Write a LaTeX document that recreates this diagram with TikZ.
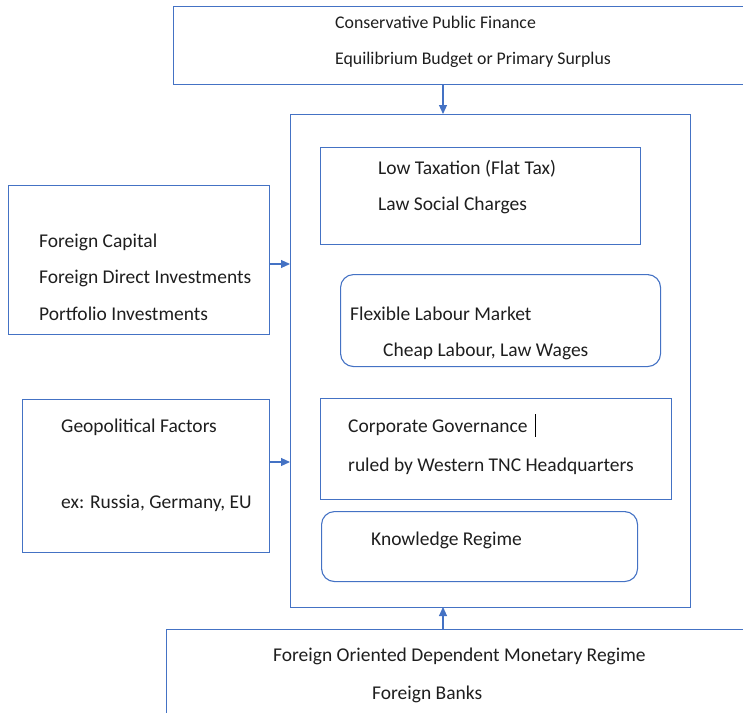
\documentclass[tikz,border=0pt]{standalone}
\usepackage{fontspec}
\setmainfont{Carlito}
\usetikzlibrary{arrows.meta}
\definecolor{boxline}{RGB}{68,114,196}
\definecolor{txt}{RGB}{30,30,30}
\tikzset{
  frame/.style={draw=boxline, line width=1.1pt, anchor=north west, inner sep=0pt},
  roundframe/.style={frame, rounded corners=13pt},
  lbl/.style={anchor=base west, inner sep=0pt, text=txt, font=\fontsize{19.5}{22}\selectfont},
  toplbl/.style={lbl, font=\fontsize{17.8}{20}\selectfont},
  conn/.style={draw=boxline, line width=1.1pt, -{Triangle[length=9pt,width=8pt]}}
}
\begin{document}
\begin{tikzpicture}[x=1pt,y=-1pt]
\useasboundingbox (0,0) rectangle (743,712);
% top box
\node[frame, minimum width=580pt, minimum height=78pt] (top) at (173,6) {};
\node[toplbl] (t1) at (335,28) {Conservative Public Finance};
\node[toplbl] (t2) at (335,64) {Equilibrium Budget or Primary Surplus};
% container
\node[frame, minimum width=400pt, minimum height=493pt] (main) at (290,114) {};
% inner boxes
\node[frame, minimum width=320pt, minimum height=97pt] (b1) at (320,147) {};
\node[lbl] (b1a) at (378,174) {Low Taxation (Flat Tax)};
\node[lbl] (b1b) at (378,210) {Law Social Charges};
\node[roundframe, minimum width=320pt, minimum height=92pt] (b2) at (340,274) {};
\node[lbl] (b2a) at (350,320) {Flexible Labour Market};
\node[lbl] (b2b) at (383,356) {Cheap Labour, Law Wages};
\node[frame, minimum width=351pt, minimum height=101pt] (b3) at (320,398) {};
\node[lbl] (b3a) at (348,432) {Corporate Governance};
\draw[black, line width=0.9pt] (535,414) -- (535,437);
\node[lbl] (b3b) at (348,471) {ruled by Western TNC Headquarters};
\node[roundframe, minimum width=316pt, minimum height=70pt] (b4) at (321,511) {};
\node[lbl] (b4a) at (371,545) {Knowledge Regime};
% left boxes
\node[frame, minimum width=261pt, minimum height=149pt] (l1) at (8,185) {};
\node[lbl] (l1a) at (39,247) {Foreign Capital};
\node[lbl] (l1b) at (39,283) {Foreign Direct Investments};
\node[lbl] (l1c) at (39,320) {Portfolio Investments};
\node[frame, minimum width=247pt, minimum height=153pt] (l2) at (22,399) {};
\node[lbl] (l2a) at (61,432) {Geopolitical Factors};
\node[lbl] (l2b) at (61,508) {ex: Russia, Germany, EU};
% bottom box
\node[frame, minimum width=590pt, minimum height=100pt] (bot) at (166,629) {};
\node[lbl] (bt1) at (273,661) {Foreign Oriented Dependent Monetary Regime};
\node[lbl] (bt2) at (372,699) {Foreign Banks};
% connectors
\coordinate (topArr) at (443,84);
\coordinate (mainTop) at (443,114);
\draw[conn] (topArr) -- (mainTop);
\coordinate (botArr) at (443,629);
\coordinate (mainBot) at (443,607);
\draw[conn] (botArr) -- (mainBot);
\draw[conn] (l1.east |- 0,264) -- (main.west |- 0,264);
\draw[conn] (l2.east |- 0,462) -- (main.west |- 0,462);
\end{tikzpicture}
\end{document}
